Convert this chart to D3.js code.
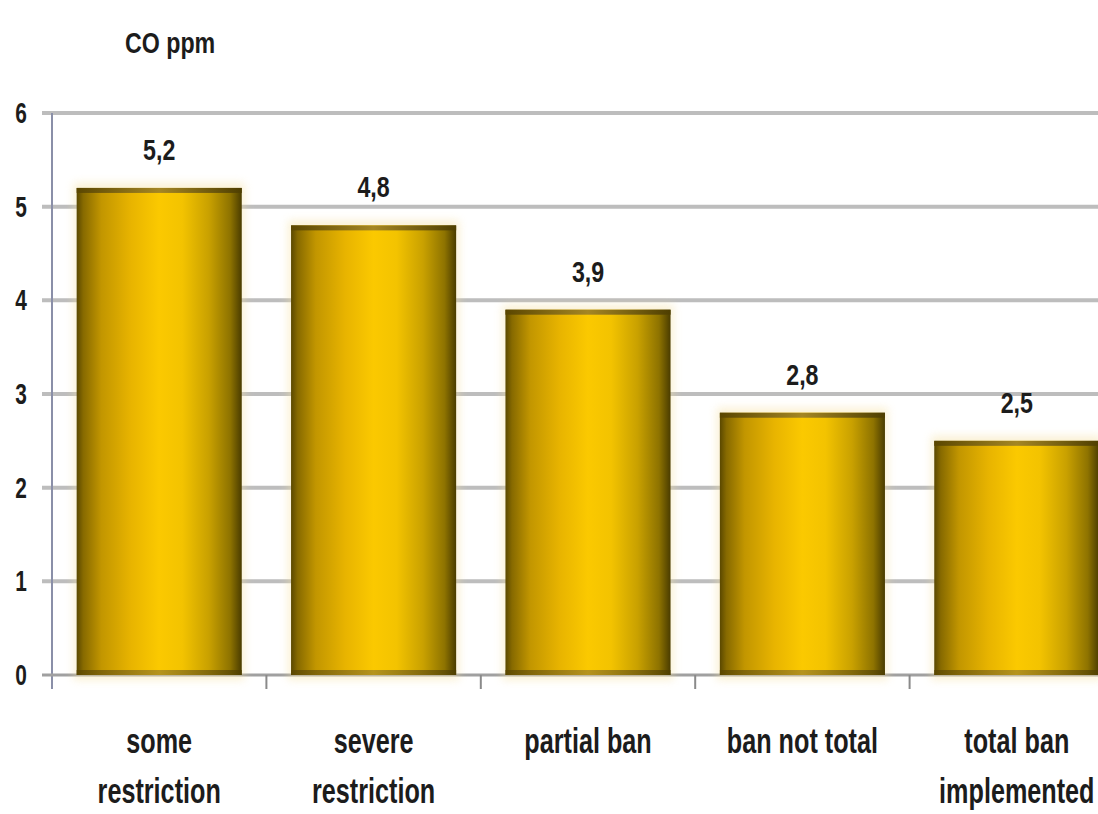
<!DOCTYPE html>
<html>
<head>
<meta charset="utf-8">
<script src="https://cdn.jsdelivr.net/npm/d3@7"></script>
<style>
  html, body { margin: 0; padding: 0; background: #fff; }
  svg { display: block; }
  text { font-family: "Liberation Sans", Arial, sans-serif; font-weight: bold; fill: #1c1c1c; }
</style>
</head>
<body>
<svg id="chart" width="1098" height="814"></svg>
<script>
// CO concentration by level of smoking restriction
const categories = [
  ["some", "restriction"],
  ["severe", "restriction"],
  ["partial ban"],
  ["ban not total"],
  ["total ban", "implemented"]
];
const values = [5.2, 4.8, 3.9, 2.8, 2.5];
const valueLabels = ["5,2", "4,8", "3,9", "2,8", "2,5"];
const yTicks = [0, 1, 2, 3, 4, 5, 6];
const yTitle = "CO ppm";

const svg = d3.select("#chart");
const W = 1098, H = 814;
const plot = { left: 52, right: 1124, top: 113, bottom: 675 };

const x = d3.scaleBand()
  .domain(d3.range(categories.length))
  .range([plot.left, plot.right])
  .paddingInner(0.23)
  .paddingOuter(0.115);

const y = d3.scaleLinear()
  .domain([0, 6])
  .range([plot.bottom, plot.top]);

// Narrow bold lettering: horizontally condensed text anchored at (cx, baseline)
function narrowText(g, cx, by, str, size, sx, anchor) {
  return g.append("text")
    .attr("transform", `translate(${cx},${by}) scale(${sx},1)`)
    .attr("text-anchor", anchor || "middle")
    .attr("font-size", size)
    .text(str);
}

// Bar shading: dark edges, bright gold centre
const defs = svg.append("defs");
const grad = defs.append("linearGradient").attr("id", "barGrad")
  .attr("x1", "0%").attr("x2", "100%").attr("y1", "0%").attr("y2", "0%");
[
  [0, "#5a4800"], [0.04, "#876a00"], [0.15, "#c29600"], [0.33, "#e8b400"],
  [0.5, "#fbc900"], [0.64, "#f3c300"], [0.8, "#c9a100"], [0.93, "#8e7300"], [1, "#4a3c00"]
].forEach(([o, c]) => grad.append("stop").attr("offset", o).attr("stop-color", c));

const capGrad = defs.append("linearGradient").attr("id", "capGrad")
  .attr("x1", "0%").attr("x2", "100%");
[[0, "#5a4600"], [0.5, "#a48624"], [1, "#4e3e00"]]
  .forEach(([o, c]) => capGrad.append("stop").attr("offset", o).attr("stop-color", c));

const glow = defs.append("filter").attr("id", "glow")
  .attr("x", "-10%").attr("y", "-10%").attr("width", "120%").attr("height", "120%");
glow.append("feGaussianBlur").attr("stdDeviation", 4);

// Gridlines
svg.append("g").selectAll("line")
  .data(yTicks.filter(d => d > 0))
  .join("line")
  .attr("x1", plot.left - 10).attr("x2", W)
  .attr("y1", d => y(d)).attr("y2", d => y(d))
  .attr("stroke", "#bdbdbd").attr("stroke-width", 4);

// Y axis line
svg.append("line")
  .attr("x1", plot.left).attr("x2", plot.left)
  .attr("y1", plot.top).attr("y2", plot.bottom + 14)
  .attr("stroke", "#8a8fa8").attr("stroke-width", 2);

// Baseline
svg.append("line")
  .attr("x1", plot.left - 10).attr("x2", W)
  .attr("y1", y(0)).attr("y2", y(0))
  .attr("stroke", "#a0a0a0").attr("stroke-width", 3);

// X tick marks between categories
const step = x.step();
svg.append("g").selectAll("line")
  .data(d3.range(1, categories.length))
  .join("line")
  .attr("x1", i => plot.left + i * step).attr("x2", i => plot.left + i * step)
  .attr("y1", y(0)).attr("y2", y(0) + 14)
  .attr("stroke", "#8a8a8a").attr("stroke-width", 2);

// Y tick labels
const yLab = svg.append("g");
yTicks.forEach(t => narrowText(yLab, 21, y(t) + 10, String(t), 29, 0.72));

// Soft glow behind bars
svg.append("g").selectAll("rect")
  .data(values)
  .join("rect")
  .attr("x", (d, i) => x(i) - 3)
  .attr("y", d => y(d) - 5)
  .attr("width", x.bandwidth() + 6)
  .attr("height", d => y(0) - y(d) + 10)
  .attr("fill", "#f5e0a0")
  .attr("opacity", 0.45)
  .attr("filter", "url(#glow)");

// Bars
const bars = svg.append("g");
bars.selectAll("rect.bar")
  .data(values)
  .join("rect")
  .attr("class", "bar")
  .attr("x", (d, i) => x(i))
  .attr("y", d => y(d))
  .attr("width", x.bandwidth())
  .attr("height", d => y(0) - y(d))
  .attr("fill", "url(#barGrad)");

// Top cap band
bars.selectAll("rect.cap")
  .data(values)
  .join("rect")
  .attr("class", "cap")
  .attr("x", (d, i) => x(i))
  .attr("y", d => y(d))
  .attr("width", x.bandwidth())
  .attr("height", 5)
  .attr("fill", "url(#capGrad)");

// Bottom band
bars.selectAll("rect.base")
  .data(values)
  .join("rect")
  .attr("class", "base")
  .attr("x", (d, i) => x(i))
  .attr("y", y(0) - 5)
  .attr("width", x.bandwidth())
  .attr("height", 5)
  .attr("fill", "url(#capGrad)")
  .attr("opacity", 0.8);

// Value labels
const vLab = svg.append("g");
values.forEach((v, i) =>
  narrowText(vLab, x(i) + x.bandwidth() / 2, y(v) - 28, valueLabels[i], 29, 0.8));

// Category labels
const cLab = svg.append("g");
categories.forEach((lines, i) => {
  lines.forEach((ln, j) =>
    narrowText(cLab, x(i) + x.bandwidth() / 2, 753 + j * 50, ln, 36, 0.7));
});

// Axis title
narrowText(svg, 125, 53, yTitle, 29, 0.8, "start");
</script>
</body>
</html>
